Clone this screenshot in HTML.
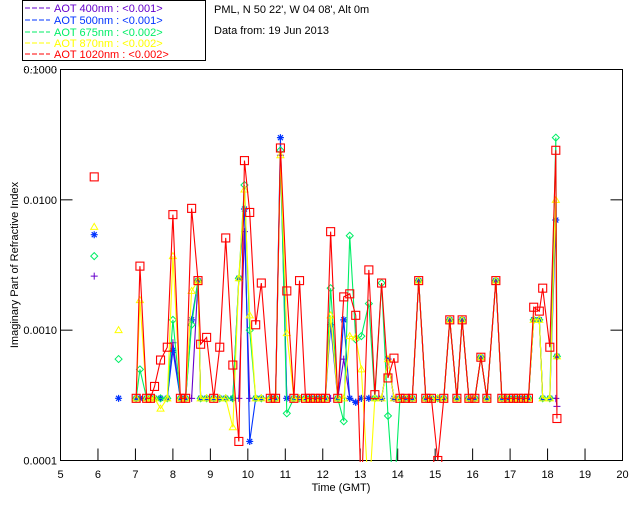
<!DOCTYPE html>
<html><head><meta charset="utf-8"><style>
body{margin:0;background:#fff;}
svg text{font-family:"Liberation Sans",sans-serif;}
</style></head><body>
<svg id="chart" width="640" height="512" xmlns="http://www.w3.org/2000/svg">
<rect width="640" height="512" fill="#fff"/>
<g>
<rect x="22.5" y="0.5" width="183" height="60" fill="none" stroke="#000"/>
<g font-size="11">
<line x1="25" y1="8" x2="50" y2="8" stroke="#6600cc" stroke-dasharray="5,2"/><text x="54" y="12" fill="#6600cc">AOT  400nm : &lt;0.001&gt;</text>
<line x1="25" y1="20" x2="50" y2="20" stroke="#0033ff" stroke-dasharray="5,2"/><text x="54" y="24" fill="#0033ff">AOT  500nm : &lt;0.001&gt;</text>
<line x1="25" y1="32" x2="50" y2="32" stroke="#00ee66" stroke-dasharray="5,2"/><text x="54" y="36" fill="#00ee66">AOT  675nm : &lt;0.002&gt;</text>
<line x1="25" y1="43" x2="50" y2="43" stroke="#ffff00" stroke-dasharray="5,2"/><text x="54" y="47" fill="#ffff00">AOT  870nm : &lt;0.002&gt;</text>
<line x1="25" y1="54" x2="50" y2="54" stroke="#ff0000" stroke-dasharray="5,2"/><text x="54" y="58" fill="#ff0000">AOT 1020nm : &lt;0.002&gt;</text>
</g></g>
<text x="214" y="13" font-size="11">PML, N 50 22', W 04 08', Alt 0m</text>
<text x="214" y="34" font-size="11">Data from: 19 Jun 2013</text>
<line x1="25" y1="69.5" x2="56" y2="69.5" stroke="#000" stroke-dasharray="1,5"/>
<rect x="60.5" y="69.5" width="562" height="391" fill="none" stroke="#000"/>
<g id="axes"></g>
<defs><clipPath id="clip"><rect x="60" y="69" width="563" height="393"/></clipPath></defs>
<g id="series" clip-path="url(#clip)"></g>
<text x="341" y="491" font-size="11" text-anchor="middle">Time (GMT)</text>
<text transform="translate(18,265) rotate(-90)" font-size="11" text-anchor="middle">Imaginary Part of Refractive Index</text>
</svg>
<script>
const xTicks=[5,6,7,8,9,10,11,12,13,14,15,16,17,18,19,20];
const yTicks=[0.1,0.01,0.001,0.0001];
const yTickLabels=["0.1000","0.0100","0.0010","0.0001"];
const hours=[7.02,7.12,7.30,7.40,7.51,7.67,7.85,8.00,8.20,8.34,
8.50,8.67,8.74,8.90,9.09,9.25,9.41,9.60,9.76,9.91,
10.05,10.21,10.36,10.60,10.74,10.87,11.04,11.23,11.38,11.54,
11.67,11.80,11.94,12.07,12.21,12.40,12.56,12.72,12.88,13.03,
13.23,13.39,13.57,13.74,13.90,14.06,14.21,14.39,14.56,14.75,
14.90,15.07,15.23,15.39,15.58,15.72,15.90,16.06,16.22,16.38,
16.62,16.78,16.96,17.09,17.22,17.36,17.49,17.63,17.78,17.87,
18.06,18.22,18.25];
const aot400=[.0003,.0003,.0003,.0003,.0003,.0003,.0003,.0008,.0003,.0003,
.0003,.0024,.0003,.0003,.0003,.0003,.0003,.0003,.0003,.0057,
.0003,.0003,.0003,.0003,.0003,.022,.0003,.0003,.0003,.0003,
.0003,.0003,.0003,.0003,.0003,.0003,.0006,.0003,.00028,.0003,
.0003,.0003,.0003,.0006,.0003,.0003,.0003,.0003,.0024,.0003,
.0003,.0003,.0003,.0012,.0003,.0012,.0003,.0003,.00062,.0003,
.0024,.0003,.0003,.0003,.0003,.0003,.0003,.0012,.0012,.0003,
.0003,.0003,.00026];
const aot500=[.0003,.0003,.0003,.0003,.0003,.0003,.0003,.0007,.0003,.0003,
.0012,.0024,.0003,.0003,.0003,.0003,.0003,.0003,.0025,.0085,
.00014,.0003,.0003,.0003,.0003,.030,.0003,.0003,.0003,.0003,
.0003,.0003,.0003,.0003,.0011,.0003,.0012,.0003,.00028,.0003,
.0003,.0003,.0003,.0006,.0003,.0003,.0003,.0003,.0024,.0003,
.0003,.0003,.0003,.0012,.0003,.0012,.0003,.0003,.00062,.0003,
.0024,.0003,.0003,.0003,.0003,.0003,.0003,.0012,.0012,.0003,
.0003,.007,.00063];
const aot675=[.0003,.0005,.0003,.0003,.0003,.0003,.0003,.0012,.0003,.0003,
.0011,.0024,.0003,.0003,.0003,.0003,.0003,.0003,.0025,.013,
.0010,.0003,.0003,.0003,.0003,.024,.00023,.0003,.0003,.0003,
.0003,.0003,.0003,.0003,.0021,.0003,.0002,.0053,.00085,.0009,
.0016,.0003,.0023,.00022,.00005,.0003,.0003,.0003,.0024,.0003,
.0003,.0003,.0003,.0012,.0003,.0012,.0003,.0003,.00062,.0003,
.0024,.0003,.0003,.0003,.0003,.0003,.0003,.0012,.0012,.0003,
.0003,.030,.00063];
const aot870=[.0003,.0017,.0003,.0003,.0003,.00025,.0003,.0037,.0003,.0003,
.0020,.0024,.0003,.0003,.0003,.0003,.0003,.00018,.0025,.012,
.0013,.0003,.0003,.0003,.0003,.022,.00095,.0003,.0003,.0003,
.0003,.0003,.0003,.0003,.0013,.0003,.0003,.0009,.00088,.0005,
.00005,.0003,.0003,.0006,.0003,.0003,.0003,.0003,.0024,.0003,
.0003,.0003,.0003,.0012,.0003,.0012,.0003,.0003,.00062,.0003,
.0024,.0003,.0003,.0003,.0003,.0003,.0003,.0012,.0012,.0003,
.0003,.010,.00063];
const aot1020=[.0003,.0031,.0003,.0003,.00037,.00059,.00074,.0077,.0003,.0003,
.0086,.0024,.00078,.00088,.0003,.00074,.0051,.00054,.00014,.020,
.0080,.0011,.0023,.0003,.0003,.025,.0020,.0003,.0024,.0003,
.0003,.0003,.0003,.0003,.0057,.0003,.0018,.0019,.0013,.00005,
.0029,.00032,.0023,.00043,.00061,.0003,.0003,.0003,.0024,.0003,
.0003,.0001,.0003,.0012,.0003,.0012,.0003,.0003,.00062,.0003,
.0024,.0003,.0003,.0003,.0003,.0003,.0003,.0015,.0014,.0021,
.00074,.024,.00021];
const isoHours=[5.9,5.9,5.9,5.9,5.9,6.55,6.55,6.55];
const isoValues=[.0026,.0054,.0037,.0062,.015,.0003,.0006,.001];
const isoSeries=[0,1,2,3,4,1,2,3];

const X0=60.5,X1=622.5,Y0=460.5,Y1=69.5;
const xs=h=>X0+(h-5)/(20-5)*(X1-X0);
const ys=v=>Y0-(Math.log10(v)+4)/3*(Y0-Y1);
const NS="http://www.w3.org/2000/svg";
function mk(tag,attrs,parent){const e=document.createElementNS(NS,tag);for(const k in attrs)e.setAttribute(k,attrs[k]);parent.appendChild(e);return e;}
const axes=document.getElementById('axes');
xTicks.forEach(t=>{
  const x=xs(t);
  if(t>5&&t<20){const l=mk('line',{x1:x,y1:Y0,x2:x,y2:Y0-12,stroke:'#000'},axes);
  
  }
  const tx=mk('text',{x:x,y:478,'font-size':11,'text-anchor':'middle'},axes);tx.textContent=t;
  
  
});
yTicks.forEach((t,i)=>{
  const y=ys(t);
  const l=mk('line',{x1:X0,y1:y,x2:X0+12,y2:y,stroke:'#000'},axes);
  
  
  const r=mk('line',{x1:X1,y1:y,x2:X1-12,y2:y,stroke:'#000'},axes);
  
  
  const tx=mk('text',{x:57,y:y+4,'font-size':11,'text-anchor':'end'},axes);tx.textContent=yTickLabels[i];
  
  
});
const colors=['#6600cc','#0033ff','#00ee66','#ffff00','#ff0000'];
const names=['aot-400','aot-500','aot-675','aot-870','aot-1020'];
const data=[aot400,aot500,aot675,aot870,aot1020];
const sg=document.getElementById('series');
function marker(s,x,y,g){
  const c=colors[s];let m;
  if(s===0){m=mk('path',{d:`M${x-3.5},${y}H${x+3.5}M${x},${y-3.5}V${y+3.5}`,stroke:c,fill:'none'},g);}
  else if(s===1){m=mk('path',{d:`M${x-3.5},${y}H${x+3.5}M${x},${y-3.5}V${y+3.5}M${x-2.5},${y-2.5}L${x+2.5},${y+2.5}M${x-2.5},${y+2.5}L${x+2.5},${y-2.5}`,stroke:c,fill:'none','stroke-width':1.2},g);}
  else if(s===2){m=mk('path',{d:`M${x},${y-3.5}L${x+3.5},${y}L${x},${y+3.5}L${x-3.5},${y}Z`,stroke:c,fill:'none'},g);}
  else if(s===3){m=mk('path',{d:`M${x},${y-3.5}L${x+3.5},${y+2.5}L${x-3.5},${y+2.5}Z`,stroke:c,fill:'none'},g);}
  else {m=mk('rect',{x:x-4,y:y-4,width:8,height:8,stroke:c,fill:'none','stroke-width':1.1},g);}
  
  
}
data.forEach((vals,s)=>{
  const g=mk('g',{},sg);
  
  
  const pts=hours.map((h,i)=>xs(h)+','+ys(vals[i])).join(' ');
  const pl=mk('polyline',{points:pts,fill:'none',stroke:colors[s],'stroke-width':1.1},g);
  
  
  hours.forEach((h,i)=>marker(s,xs(h),ys(vals[i]),g));
});
const ig=mk('g',{},sg);


isoHours.forEach((h,i)=>marker(isoSeries[i],xs(h),ys(isoValues[i]),ig));
</script>
</body></html>
